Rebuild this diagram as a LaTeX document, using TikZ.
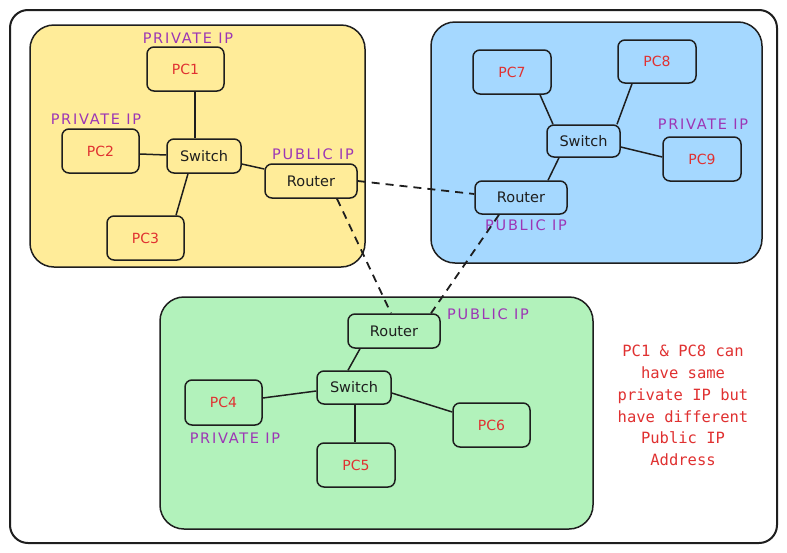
\documentclass[tikz,border=0pt]{standalone}
\usepackage{fontspec}
\setmainfont{DejaVu Sans}
\newfontfamily\lblfont[LetterSpace=12]{DejaVu Sans}
\newfontfamily\notefont{DejaVu Sans Mono}
\usetikzlibrary{calc}
\definecolor{ink}{HTML}{1E1E1E}
\definecolor{yellowfill}{HTML}{FFEC99}
\definecolor{bluefill}{HTML}{A5D8FF}
\definecolor{greenfill}{HTML}{B2F2BB}
\definecolor{redtext}{HTML}{E03131}
\definecolor{violettext}{HTML}{9C36B5}
\tikzset{
  region/.style={draw=ink, line width=1.5pt, rounded corners=24pt},
  box/.style={draw=ink, line width=1.5pt, rounded corners=7pt, inner sep=0pt, align=center},
  pcbox/.style={box, minimum width=77pt, minimum height=44pt, text=redtext, font=\fontsize{14}{16}\selectfont},
  netbox/.style={box, text=ink, font=\fontsize{14.5}{16}\selectfont},
  iplabel/.style={text=violettext, inner sep=0pt, font=\lblfont\fontsize{14.5}{16}\selectfont},
  link/.style={draw=ink, line width=1.5pt},
  wan/.style={draw=ink, line width=1.8pt, dash pattern=on 8pt off 6pt},
}
\begin{document}
\begin{tikzpicture}[x=1pt,y=-1pt]
\useasboundingbox (0,0) rectangle (787,552);
\fill[white] (0,0) rectangle (787,552);
% outer frame
\draw[ink, line width=2pt, rounded corners=18pt] (10,10) rectangle (777,543);
% regions
\draw[region, fill=yellowfill] (30,25) rectangle (365,267);
\draw[region, fill=bluefill] (431,22) rectangle (762,263);
\draw[region, fill=greenfill] (160,297) rectangle (593,529);

% yellow network
\node[pcbox] (pc1) at (185.5,69) {PC1};
\node[pcbox] (pc2) at (100.5,151) {PC2};
\node[pcbox] (pc3) at (145.5,238) {PC3};
\node[netbox, minimum width=74pt, minimum height=34pt] (sw1) at (204,156) {Switch};
\node[netbox, minimum width=92pt, minimum height=34pt] (rt1) at (311,181) {Router};

% blue network
\node[pcbox, minimum width=78pt] (pc7) at (512,72) {PC7};
\node[pcbox, minimum width=78pt, minimum height=43pt] (pc8) at (657,61.5) {PC8};
\node[pcbox, minimum width=78pt] (pc9) at (702,159) {PC9};
\node[netbox, minimum width=73pt, minimum height=32pt] (sw2) at (583.5,141) {Switch};
\node[netbox, minimum width=92pt, minimum height=33pt] (rt2) at (521,197.5) {Router};

% green network
\node[netbox, minimum width=92pt, minimum height=34pt] (rt3) at (394,331) {Router};
\node[netbox, minimum width=74pt, minimum height=33pt] (sw3) at (354,387.5) {Switch};
\node[pcbox, minimum height=45pt] (pc4) at (223.5,402.5) {PC4};
\node[pcbox, minimum width=78pt] (pc5) at (356,465) {PC5};
\node[pcbox] (pc6) at (491.5,425) {PC6};

% labels
\node[iplabel] (l1) at (188,38) {PRIVATE IP};
\node[iplabel] (l2) at (96,119) {PRIVATE IP};
\node[iplabel] (l3) at (313,154) {PUBLIC IP};
\node[iplabel] (l4) at (703,124) {PRIVATE IP};
\node[iplabel] (l5) at (526,225) {PUBLIC IP};
\node[iplabel] (l6) at (488,314) {PUBLIC IP};
\node[iplabel] (l7) at (235,438) {PRIVATE IP};

% note
\node[text=redtext, align=center, inner sep=0pt, font=\notefont\fontsize{15.5}{21.8}\selectfont] (note) at (683,405.5)
  {PC1 \& PC8 can\\have same\\private IP but\\have different\\Public IP\\Address};

% yellow links
\draw[link] ($(pc1.south)+(9.5,0)$) -- ($(sw1.north)+(-9,0)$);
\draw[link] ($(pc2.east)+(0,3)$) -- ($(sw1.west)+(0,-1)$);
\draw[link] ($(sw1.south)+(-16,0)$) -- ($(pc3.north)+(30.5,0)$);
\draw[link] ($(sw1.east)+(0,8)$) -- ($(rt1.west)+(0,-12)$);

% blue links
\draw[link] ($(pc7.south)+(28,0)$) -- ($(sw2.north)+(-30.5,0)$);
\draw[link] ($(pc8.south)+(-25,0)$) -- ($(sw2.north)+(33.5,0)$);
\draw[link] ($(sw2.east)+(0,6)$) -- ($(pc9.west)+(0,-2)$);
\draw[link] ($(sw2.south)+(-24.5,0)$) -- ($(rt2.north)+(27,0)$);

% green links
\draw[link] ($(rt3.south)+(-34,0)$) -- ($(sw3.north)+(-6,0)$);
\draw[link] ($(sw3.west)+(0,3.5)$) -- ($(pc4.east)+(0,-4.5)$);
\draw[link] ($(sw3.east)+(0,5.5)$) -- ($(pc6.west)+(0,-13)$);
\draw[link] ($(sw3.south)+(1,0)$) -- ($(pc5.north)+(-1,0)$);

% WAN links
\draw[wan] (rt1.east) -- ($(rt2.west)+(0,-3.5)$);
\draw[wan] ($(rt1.south)+(26,0)$) -- ($(rt3.north)+(-3,0)$);
\draw[wan] ($(rt2.south)+(-22,0)$) -- ($(rt3.north)+(37,0)$);
\end{tikzpicture}
\end{document}
